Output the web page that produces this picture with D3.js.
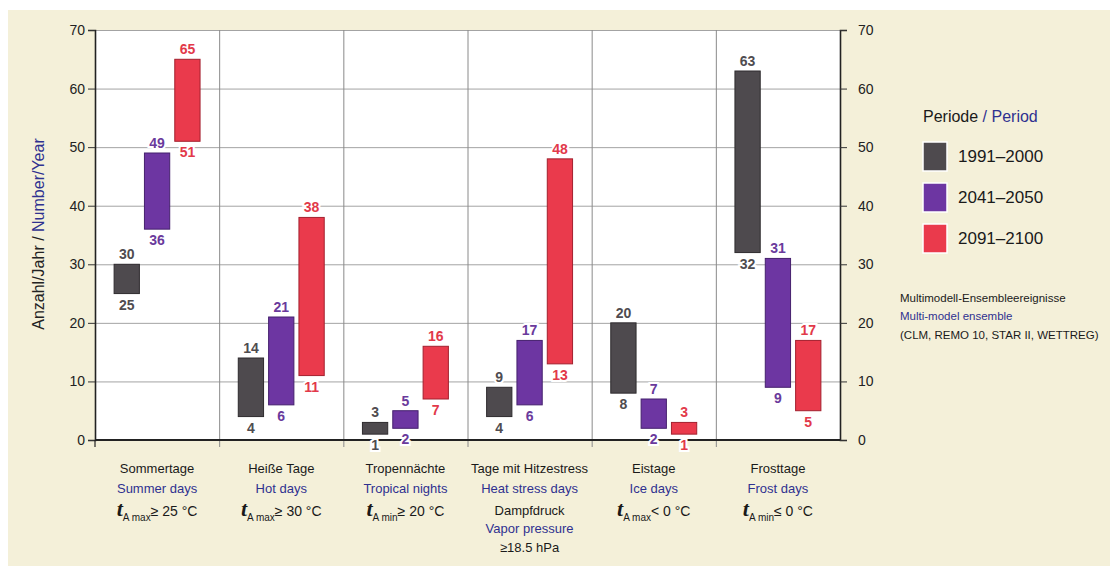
<!DOCTYPE html>
<html>
<head>
<meta charset="utf-8">
<script src="https://cdn.jsdelivr.net/npm/d3@7"></script>
<style>
  body { margin: 0; background: #ffffff; }
  svg { display: block; }
  .sans { font-family: "Liberation Sans", Arial, sans-serif; }
</style>
</head>
<body>
<svg id="chart" width="1118" height="566"></svg>
<script>
// categories (German / English / threshold)
var categories = ["Sommertage", "Heiße Tage", "Tropennächte", "Tage mit Hitzestress", "Eistage", "Frosttage"];
var categoriesEn = ["Summer days", "Hot days", "Tropical nights", "Heat stress days", "Ice days", "Frost days"];
var thresholdSub = ["A max", "A max", "A min", null, "A max", "A min"];
var thresholdRest = ["≥ 25 °C", "≥ 30 °C", "≥ 20 °C", null, "< 0 °C", "≤ 0 °C"];

var periods = ["1991–2000", "2041–2050", "2091–2100"];

// range of each period (low / high)
var low1991 = [25, 4, 1, 4, 8, 32];
var high1991 = [30, 14, 3, 9, 20, 63];
var low2041 = [36, 6, 2, 6, 2, 9];
var high2041 = [49, 21, 5, 17, 7, 31];
var low2091 = [51, 11, 7, 13, 1, 5];
var high2091 = [65, 38, 16, 48, 3, 17];

var yTicks = [0, 10, 20, 30, 40, 50, 60, 70];

var fills = ["#4e4a4e", "#6d36a2", "#ea3a4c"];
var strokes = ["#2e2b2e", "#45206e", "#a3202e"];
var labelColors = ["#4f4c50", "#6a3a9c", "#e2394a"];
var blue = "#2f3190";

var svg = d3.select("#chart");

// beige page background
svg.append("rect").attr("x", 8).attr("y", 10).attr("width", 1102).attr("height", 556).attr("fill", "#f4f0d9");

// plot box (window.top is reserved, so prefix names)
var pLeft = 95, pRight = 840, pTop = 30, pBottom = 440;

var x = d3.scaleBand().domain(categories).range([pLeft, pRight]).padding(0);
var xs = d3.scaleBand().domain(periods).range([0, x.bandwidth()]).paddingInner(1 / 6).paddingOuter(0.63);
var y = d3.scaleLinear().domain([0, 70]).range([pBottom, pTop]);

// white plot area
svg.append("rect").attr("x", pLeft).attr("y", pTop).attr("width", pRight - pLeft).attr("height", pBottom - pTop).attr("fill", "#fff");

// horizontal grid lines
svg.append("g").selectAll("line").data(yTicks).enter().append("line")
  .attr("x1", pLeft).attr("x2", pRight)
  .attr("y1", function(d) { return y(d) + 0.5; }).attr("y2", function(d) { return y(d) + 0.5; })
  .attr("stroke", "#a3a3a3").attr("stroke-width", 1);

// vertical dividers between categories, poking below the axis
svg.append("g").selectAll("line").data(categories.slice(1)).enter().append("line")
  .attr("x1", function(d) { return x(d) + 0.5; }).attr("x2", function(d) { return x(d) + 0.5; })
  .attr("y1", pTop).attr("y2", pBottom + 7)
  .attr("stroke", "#8a8a8a").attr("stroke-width", 1);

// axes
var leftAxis = svg.append("g").attr("class", "sans").attr("transform", "translate(" + pLeft + ",0)")
  .call(d3.axisLeft(y).tickValues(yTicks).tickSize(7).tickPadding(3));
var rightAxis = svg.append("g").attr("class", "sans").attr("transform", "translate(" + pRight + ",0)")
  .call(d3.axisRight(y).tickValues(yTicks).tickSize(7).tickPadding(11));
[leftAxis, rightAxis].forEach(function(a) {
  a.attr("font-family", null).attr("font-size", null);
  a.select(".domain").attr("stroke", "#222").attr("stroke-width", 1.6);
  a.selectAll(".tick line").attr("stroke", "#333");
  a.selectAll(".tick text").attr("font-size", 14).attr("fill", "#222");
});
svg.append("line").attr("x1", pLeft).attr("x2", pRight).attr("y1", pBottom).attr("y2", pBottom)
  .attr("stroke", "#222").attr("stroke-width", 1.8);
svg.append("line").attr("x1", pLeft).attr("x2", pLeft).attr("y1", pBottom).attr("y2", pBottom + 7)
  .attr("stroke", "#222").attr("stroke-width", 1.2);

// y axis title
var yt = svg.append("text").attr("class", "sans").attr("transform", "translate(44,234) rotate(-90)")
  .attr("text-anchor", "middle").attr("font-size", 16);
yt.append("tspan").attr("fill", "#222").text("Anzahl/Jahr / ");
yt.append("tspan").attr("fill", blue).text("Number/Year");

// bars
var lows = [low1991, low2041, low2091];
var highs = [high1991, high2041, high2091];
var rows = [];
periods.forEach(function(p, pi) {
  categories.forEach(function(c, ci) {
    rows.push({ cat: c, period: p, pi: pi, low: lows[pi][ci], high: highs[pi][ci] });
  });
});

var bars = svg.append("g");
bars.selectAll("rect").data(rows).enter().append("rect")
  .attr("x", function(d) { return x(d.cat) + xs(d.period); })
  .attr("width", xs.bandwidth())
  .attr("y", function(d) { return y(d.high); })
  .attr("height", function(d) { return y(d.low) - y(d.high); })
  .attr("fill", function(d) { return fills[d.pi]; })
  .attr("stroke", function(d) { return strokes[d.pi]; })
  .attr("stroke-width", 1);

// value labels with a white halo that cuts the grid
var labels = svg.append("g").attr("class", "sans").attr("font-size", 14).attr("font-weight", "bold")
  .attr("text-anchor", "middle");
labels.selectAll("text.top").data(rows).enter().append("text").attr("class", "top")
  .attr("x", function(d) { return x(d.cat) + xs(d.period) + xs.bandwidth() / 2; })
  .attr("y", function(d) { return y(d.high) - 5; })
  .attr("fill", function(d) { return labelColors[d.pi]; })
  .attr("stroke", "#fff").attr("stroke-width", 4).attr("paint-order", "stroke")
  .text(function(d) { return d.high; });
labels.selectAll("text.bot").data(rows).enter().append("text").attr("class", "bot")
  .attr("x", function(d) { return x(d.cat) + xs(d.period) + xs.bandwidth() / 2; })
  .attr("y", function(d) { return y(d.low) + 16; })
  .attr("fill", function(d) { return labelColors[d.pi]; })
  .attr("stroke", "#fff").attr("stroke-width", 4).attr("paint-order", "stroke")
  .text(function(d) { return d.low; });

// category labels under the axis
var cat = svg.append("g").attr("class", "sans").attr("text-anchor", "middle").attr("font-size", 13);
categories.forEach(function(c, i) {
  var cx = x(c) + x.bandwidth() / 2;
  cat.append("text").attr("x", cx).attr("y", 473).attr("fill", "#1a1a1a").text(c);
  cat.append("text").attr("x", cx).attr("y", 493).attr("fill", blue).text(categoriesEn[i]);
  if (thresholdSub[i]) {
    var t = cat.append("text").attr("x", cx).attr("y", 516).attr("fill", "#1a1a1a").attr("font-size", 14);
    t.append("tspan").attr("font-family", "'Liberation Serif', serif").attr("font-weight", "bold")
      .attr("font-style", "italic").attr("font-size", 22).text("t");
    t.append("tspan").attr("font-size", 10).attr("dy", 5).text(thresholdSub[i]);
    t.append("tspan").attr("dy", -5).text(thresholdRest[i]);
  } else {
    cat.append("text").attr("x", cx).attr("y", 515).attr("fill", "#1a1a1a").text("Dampfdruck");
    cat.append("text").attr("x", cx).attr("y", 533).attr("fill", blue).text("Vapor pressure");
    cat.append("text").attr("x", cx).attr("y", 552).attr("fill", "#1a1a1a").text("≥18.5 hPa");
  }
});

// legend
var lg = svg.append("g").attr("class", "sans");
var lt = lg.append("text").attr("x", 923).attr("y", 122).attr("font-size", 16);
lt.append("tspan").attr("fill", "#1a1a1a").text("Periode ");
lt.append("tspan").attr("fill", blue).text("/ Period");
periods.forEach(function(p, i) {
  lg.append("rect").attr("x", 923).attr("y", 142 + i * 41).attr("width", 24).attr("height", 29)
    .attr("fill", fills[i]).attr("stroke", "#fff").attr("stroke-width", 1.5);
  lg.append("text").attr("x", 958).attr("y", 162 + i * 41).attr("font-size", 17).attr("fill", "#1a1a1a").text(p);
});

var note = svg.append("g").attr("class", "sans").attr("font-size", 11.5);
note.append("text").attr("x", 900).attr("y", 302).attr("fill", "#1a1a1a").text("Multimodell-Ensembleereignisse");
note.append("text").attr("x", 900).attr("y", 320).attr("fill", blue).text("Multi-model ensemble");
note.append("text").attr("x", 900).attr("y", 339).attr("fill", "#1a1a1a").text("(CLM, REMO 10, STAR II, WETTREG)");
</script>
</body>
</html>
